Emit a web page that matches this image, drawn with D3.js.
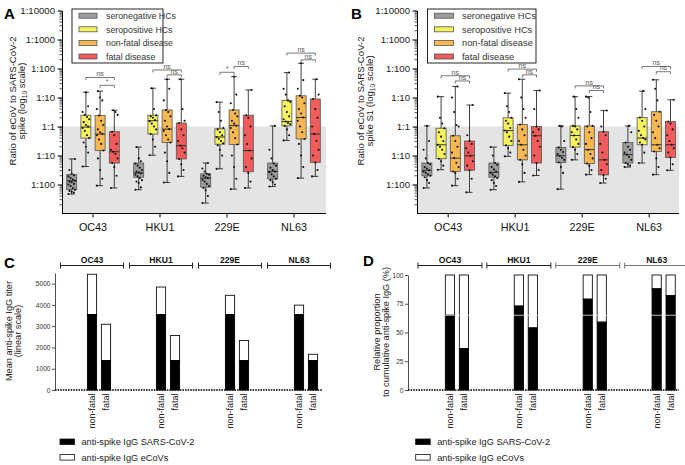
<!DOCTYPE html>
<html><head><meta charset="utf-8">
<script src="https://cdn.jsdelivr.net/npm/d3@7"></script>
<style>
body{margin:0;background:#fff;}
svg{font-family:"Liberation Sans",Arial,sans-serif;}
</style></head><body>
<svg id="c" width="685" height="465"></svg>
<script>
// ---------- shared categories ----------
const viruses = ["OC43","HKU1","229E","NL63"];
const cohorts = ["seronegative HCs","seropositive HCs","non-fatal disease","fatal disease"];
const cohortColors = ["#9c9c9c","#f5f25c","#f7b84f","#f15b5b"];
const logTickValues = [0.01,0.1,1,10,100,1000,10000];
const logTickLabels = ["1:100","1:10","1:1","1:10","1:100","1:1000","1:10000"];

// ---------- Panel A: box stats [min,q1,median,q3,max] in log10 units, per cohort ----------
const statsA_OC43 = [[-2.33,-2.18,-1.87,-1.66,-1.12],[-1.38,-0.40,-0.02,0.39,1.18],[-2.04,-0.83,-0.26,0.38,1.22],[-2.12,-1.26,-0.87,-0.18,0.56]];
const statsA_HKU1 = [[-2.18,-1.75,-1.60,-1.26,-0.71],[-0.99,-0.26,0.20,0.39,1.32],[-1.93,-0.55,-0.09,0.57,1.63],[-1.72,-1.12,-0.66,0.12,1.63]];
const statsA_229E = [[-2.64,-2.09,-1.78,-1.63,-1.26],[-1.46,-0.61,-0.36,-0.08,0.84],[-2.16,-0.62,0.03,0.57,1.72],[-2.12,-1.56,-0.83,0.39,1.26]];
const statsA_NL63 = [[-2.07,-1.81,-1.55,-1.26,0.02],[-0.48,0.02,0.17,0.90,1.86],[-1.78,-0.43,0.31,1.06,2.18],[-1.72,-1.24,-0.26,0.95,1.63]];
// individual points (log10 units)
const ptsA_OC43 = [
 [-2.33,-2.28,-2.25,-2.22,-2.18,-2.12,-2.05,-2.0,-1.98,-1.92,-1.9,-1.87,-1.83,-1.78,-1.72,-1.68,-1.62,-1.5,-1.12],
 [-1.38,-0.9,-0.7,-0.55,-0.4,-0.3,-0.15,-0.05,0.0,0.05,0.15,0.25,0.33,0.4,0.5,0.7,1.18],
 [-2.04,-1.8,-1.5,-1.1,-0.83,-0.6,-0.45,-0.3,-0.25,-0.2,-0.1,0.05,0.2,0.38,0.6,0.9,1.0,1.22],
 [-2.12,-1.7,-1.4,-1.26,-1.1,-0.95,-0.87,-0.8,-0.6,-0.3,-0.18,0.4,0.5,0.56]];
const ptsA_HKU1 = [
 [-2.18,-2.1,-1.95,-1.9,-1.85,-1.78,-1.72,-1.66,-1.62,-1.58,-1.55,-1.5,-1.42,-1.35,-1.28,-1.2,-1.1,-0.71],
 [-0.99,-0.7,-0.45,-0.26,-0.1,0.0,0.1,0.18,0.22,0.3,0.35,0.39,0.6,1.32],
 [-1.93,-1.6,-1.2,-0.9,-0.55,-0.45,-0.3,-0.15,-0.09,0.0,0.2,0.35,0.5,0.57,0.9,1.3,1.63],
 [-1.72,-1.5,-1.3,-1.12,-0.9,-0.75,-0.66,-0.5,-0.3,-0.1,0.12,0.2,0.6,1.63]];
const ptsA_229E = [
 [-2.64,-2.4,-2.2,-2.12,-2.05,-1.98,-1.9,-1.84,-1.78,-1.75,-1.7,-1.66,-1.63,-1.55,-1.45,-1.26],
 [-1.46,-1.0,-0.8,-0.65,-0.58,-0.5,-0.42,-0.36,-0.3,-0.2,-0.1,-0.05,0.2,0.5,0.84],
 [-2.16,-1.8,-1.4,-1.0,-0.62,-0.4,-0.2,-0.05,0.03,0.1,0.2,0.35,0.45,0.57,0.8,1.1,1.72],
 [-2.12,-1.9,-1.6,-1.4,-1.1,-0.83,-0.6,-0.3,0.0,0.3,0.39,1.26]];
const ptsA_NL63 = [
 [-2.07,-2.0,-1.92,-1.85,-1.8,-1.72,-1.65,-1.58,-1.55,-1.5,-1.42,-1.35,-1.28,-1.1,-0.8,0.02],
 [-0.48,-0.3,-0.1,0.02,0.08,0.12,0.17,0.25,0.35,0.5,0.7,0.85,0.9,1.1,1.3,1.86],
 [-1.78,-1.4,-1.0,-0.6,-0.43,-0.2,0.0,0.2,0.31,0.45,0.6,0.8,1.0,1.06,1.3,1.6,2.18],
 [-1.72,-1.5,-1.24,-1.0,-0.8,-0.5,-0.26,0.0,0.3,0.6,0.95,1.1,1.63]];
// significance brackets: [virus, fromCohort, toCohort, level (log10), label]
const bracketsA = [["OC43",1,3,1.69,"ns"],["OC43",2,3,1.42,"*"],["HKU1",1,3,1.95,"ns"],["HKU1",2,3,1.78,"ns"],
 ["229E",1,2,1.87,"*"],["229E",2,3,2.07,"ns"],["NL63",1,3,2.53,"ns"],["NL63",2,3,2.30,"ns"]];

// ---------- Panel B ----------
const statsB_OC43 = [[-2.12,-1.70,-1.51,-1.26,0.02],[-1.49,-1.11,-0.63,-0.06,1.03],[-2.04,-1.55,-1.09,-0.32,1.38],[-2.27,-1.51,-1.01,-0.50,0.74]];
const statsB_HKU1 = [[-2.18,-1.75,-1.58,-1.26,-0.71],[-1.03,-0.65,-0.14,0.30,1.15],[-1.91,-1.15,-0.63,0.07,1.63],[-1.69,-1.26,-0.32,0.0,1.24]];
const statsB_229E = [[-2.16,-1.24,-1.01,-0.72,0.02],[-1.15,-0.71,-0.31,0.02,1.03],[-1.66,-1.28,-0.80,0.02,1.03],[-1.95,-1.67,-1.15,-0.18,0.55]];
const statsB_NL63 = [[-1.40,-1.26,-0.97,-0.55,0.02],[-1.26,-0.63,-0.40,0.31,1.22],[-1.66,-0.86,-0.63,0.51,1.61],[-1.51,-1.07,-0.63,0.17,0.92]];
const ptsB_OC43 = [
 [-2.12,-1.95,-1.85,-1.75,-1.7,-1.65,-1.6,-1.55,-1.51,-1.45,-1.4,-1.3,-1.26,-1.1,-0.8,-0.5,0.02],
 [-1.49,-1.35,-1.2,-1.11,-0.95,-0.8,-0.7,-0.63,-0.5,-0.35,-0.2,-0.06,0.1,0.3,1.03],
 [-2.04,-1.8,-1.6,-1.55,-1.4,-1.25,-1.09,-0.9,-0.7,-0.5,-0.32,0.0,0.05,0.5,1.0,1.38],
 [-2.27,-1.8,-1.51,-1.35,-1.2,-1.01,-0.9,-0.75,-0.6,-0.5,-0.3,0.74]];
const ptsB_HKU1 = [
 [-2.18,-2.05,-1.95,-1.85,-1.78,-1.72,-1.66,-1.6,-1.55,-1.48,-1.4,-1.32,-1.26,-1.0,-0.71],
 [-1.03,-0.9,-0.75,-0.65,-0.5,-0.35,-0.2,-0.14,-0.05,0.1,0.2,0.3,0.5,0.7,1.15],
 [-1.91,-1.6,-1.3,-1.15,-1.0,-0.8,-0.63,-0.5,-0.3,-0.1,0.07,0.3,0.6,1.0,1.63],
 [-1.69,-1.5,-1.26,-1.0,-0.7,-0.5,-0.32,-0.2,-0.1,0.0,0.6,1.24]];
const ptsB_229E = [
 [-2.16,-1.6,-1.4,-1.24,-1.15,-1.08,-1.01,-0.95,-0.88,-0.8,-0.72,-0.5,0.0,0.02],
 [-1.15,-0.95,-0.8,-0.71,-0.6,-0.45,-0.31,-0.2,-0.1,0.0,0.02,0.3,0.6,1.03],
 [-1.66,-1.5,-1.35,-1.28,-1.1,-0.95,-0.8,-0.6,-0.4,-0.2,0.0,0.02,0.5,1.0,1.03],
 [-1.95,-1.8,-1.67,-1.5,-1.3,-1.15,-0.9,-0.6,-0.3,-0.18,0.0,0.55]];
const ptsB_NL63 = [
 [-1.40,-1.35,-1.3,-1.26,-1.15,-1.05,-0.97,-0.9,-0.8,-0.7,-0.55,-0.2,0.02],
 [-1.26,-0.9,-0.63,-0.55,-0.45,-0.4,-0.3,-0.15,0.0,0.2,0.31,0.6,1.22],
 [-1.66,-1.4,-1.1,-0.86,-0.75,-0.63,-0.4,-0.2,0.0,0.2,0.4,0.51,0.9,1.3,1.61],
 [-1.51,-1.3,-1.07,-0.9,-0.75,-0.63,-0.5,-0.3,-0.1,0.1,0.17,0.92]];
const bracketsB = [["OC43",1,3,1.75,"ns"],["OC43",2,3,1.57,"ns"],["HKU1",1,3,1.98,"ns"],["HKU1",2,3,1.78,"ns"],
 ["229E",1,3,1.40,"ns"],["229E",2,3,1.24,"ns"],["NL63",1,3,2.07,"ns"],["NL63",2,3,1.89,"ns"]];

// ---------- Panels C & D ----------
const outcomes = ["non-fatal","fatal"];
const stackSeries = ["anti-spike IgG SARS-CoV-2","anti-spike IgG eCoVs"];
const titerSarsNonFatal = [3550,3550,3550,3550];
const titerSarsFatal    = [1380,1380,1380,1380];
const titerEcovNonFatal = [1890,1290,900,440];
const titerEcovFatal    = [1710,1180,950,300];
const titerTicks = [0,1000,2000,3000,4000,5000];
const pctSarsNonFatal = [65,73,79,88];
const pctSarsFatal    = [36,54,59,82];
const pctTicks = [0,25,50,75,100];

const FONT = "Liberation Sans, Arial, sans-serif";
const svg = d3.select("#c");

function panelLetter(t,x,y){
  svg.append("text").attr("x",x).attr("y",y).attr("font-size",15).attr("font-weight","bold").attr("fill","#000").text(t);
}
function rotLabel(lines,xs,cy,size){
  lines.forEach((l,i)=>{
    const t = svg.append("text").attr("transform",`translate(${xs[i]},${cy}) rotate(-90)`)
      .attr("text-anchor","middle").attr("font-size",size).attr("fill","#222");
    l.forEach(seg=>{
      const ts = t.append("tspan").text(seg[0]);
      if(seg[1]) ts.attr("font-size",size*0.7).attr("dy",2);
      else if(seg[2]) ts.attr("dy",-2);
    });
  });
}

function logPanel(cfg){
  const g = svg.append("g");
  const y = d3.scaleLog().domain([1e-3,1e4]).range([213.5,10.5]);
  const x = d3.scaleBand().domain(viruses).range(cfg.band);
  const sub = d3.scalePoint().domain(d3.range(4)).range([-21.3,21.3]);
  const cx = (v,c)=> x(v)+x.bandwidth()/2 + sub(c);
  g.append("rect").attr("x",cfg.axisX).attr("y",y(1)).attr("width",cfg.xEnd-cfg.axisX)
    .attr("height",y(1e-3)-y(1)).attr("fill","#e4e4e4");
  // y axis
  const ax = g.append("g").attr("transform",`translate(${cfg.axisX},0)`)
    .call(d3.axisLeft(y).tickValues(logTickValues).tickFormat((d,i)=>logTickLabels[i]).tickSize(4.5).tickSizeOuter(0));
  ax.attr("font-family",FONT);
  ax.selectAll("text").attr("font-size",9.6).attr("fill","#222").attr("x",-7);
  const minor=[]; for(let e=-3;e<4;e++) for(let k=2;k<10;k++) minor.push(k*Math.pow(10,e));
  ax.selectAll("line.minor").data(minor).join("line").attr("class","minor")
    .attr("x1",-2.5).attr("x2",0).attr("y1",d=>y(d)).attr("y2",d=>y(d)).attr("stroke","#000").attr("stroke-width",0.7);
  // x axis
  g.append("line").attr("x1",cfg.axisX).attr("x2",cfg.xEnd).attr("y1",213.5).attr("y2",213.5).attr("stroke","#000");
  viruses.forEach(v=>{
    const c = x(v)+x.bandwidth()/2;
    g.append("line").attr("x1",c).attr("x2",c).attr("y1",213.5).attr("y2",217.5).attr("stroke","#000");
    g.append("text").attr("x",c).attr("y",231).attr("text-anchor","middle").attr("font-size",10.8).attr("fill","#111").text(v);
  });
  // boxes
  viruses.forEach((v,vi)=>{
    cohorts.forEach((co,ci)=>{
      const s = cfg.stats[vi][ci], xc = cx(v,ci), Y = d=>y(Math.pow(10,d));
      g.append("line").attr("x1",xc).attr("x2",xc).attr("y1",Y(s[0])).attr("y2",Y(s[4])).attr("stroke","#111").attr("stroke-width",0.8);
      [s[0],s[4]].forEach(d=>g.append("line").attr("x1",xc-3).attr("x2",xc+3).attr("y1",Y(d)).attr("y2",Y(d)).attr("stroke","#111").attr("stroke-width",0.8));
      g.append("rect").attr("x",xc-5).attr("width",10).attr("y",Y(s[3])).attr("height",Y(s[1])-Y(s[3]))
        .attr("fill",cohortColors[ci]).attr("stroke","#555").attr("stroke-width",0.8);
      g.append("line").attr("x1",xc-5).attr("x2",xc+5).attr("y1",Y(s[2])).attr("y2",Y(s[2])).attr("stroke","#222").attr("stroke-width",0.9);
      g.selectAll(null).data(cfg.points[vi][ci]).join("circle")
        .attr("cx",(d,i)=>xc+(((i*5)%7)-3)*1.1).attr("cy",d=>Y(d)).attr("r",1.05).attr("fill","#111");
    });
  });
  // brackets
  cfg.brackets.forEach(b=>{
    const x1 = cx(b[0],b[1]), x2 = cx(b[0],b[2]), yy = y(Math.pow(10,b[3]));
    g.append("path").attr("d",`M${x1},${yy+2.5}V${yy}H${x2}V${yy+2.5}`).attr("fill","none").attr("stroke","#555").attr("stroke-width",0.8);
    g.append("text").attr("x",(x1+x2)/2).attr("y",yy-1.2).attr("text-anchor","middle").attr("font-size",7).attr("fill","#555").text(b[4]);
  });
  // legend
  const lg = g.append("g").attr("transform",`translate(${cfg.legendX},9)`);
  lg.append("rect").attr("width",cfg.legendW).attr("height",54).attr("fill","#fff").attr("stroke","#111").attr("stroke-width",0.9);
  cohorts.forEach((co,i)=>{
    const yy = 6.7 + i*13.6;
    lg.append("rect").attr("x",7).attr("y",yy-2.5).attr("width",cfg.swW).attr("height",5).attr("fill",cohortColors[i]).attr("stroke","#555").attr("stroke-width",0.8);
    lg.append("text").attr("x",cfg.textX).attr("y",yy+3.2).attr("font-size",cfg.legFont).attr("fill","#333").text(co);
  });
}

panelLetter("A",4,19); panelLetter("B",351,19);
rotLabel([[["Ratio of eCoV to SARS-CoV-2"]],[["spike (log"],["10",true],[" scale)",false,true]]],[15.5,25],101,9.6);
rotLabel([[["Ratio of eCoV to SARS-CoV-2"]],[["spike S1 (log"],["10",true],[" scale)",false,true]]],[363.5,373],101,9.6);

logPanel({axisX:62,xEnd:326,band:[59.5,327.5],legendX:72,legendW:91,swW:18,textX:34,legFont:8.8,
  stats:[statsA_OC43,statsA_HKU1,statsA_229E,statsA_NL63],
  points:[ptsA_OC43,ptsA_HKU1,ptsA_229E,ptsA_NL63],brackets:bracketsA});
logPanel({axisX:417,xEnd:679,band:[414.7,682.7],legendX:427.5,legendW:108.5,swW:19,textX:34.5,legFont:9.3,
  stats:[statsB_OC43,statsB_HKU1,statsB_229E,statsB_NL63],
  points:[ptsB_OC43,ptsB_HKU1,ptsB_229E,ptsB_NL63],brackets:bracketsB});

function barPanel(cfg){
  const g = svg.append("g");
  const y = d3.scaleLinear().domain(cfg.domain).range([390,cfg.top]);
  const x = d3.scaleBand().domain(viruses).range(cfg.band);
  const off = d3.scalePoint().domain(outcomes).range([0,14]);
  const ax = g.append("g").attr("transform",`translate(${cfg.axisX},0)`)
    .call(d3.axisLeft(y).tickValues(cfg.ticks).tickFormat(d3.format("d")).tickSize(3).tickSizeOuter(0));
  ax.attr("font-family",FONT);
  ax.selectAll("text").attr("font-size",6.6).attr("fill","#333").attr("x",-4.5);
  ax.select(".domain").attr("stroke","#222").attr("stroke-width",0.8);
  ax.selectAll(".tick line").attr("stroke","#222").attr("stroke-width",0.8);
  viruses.forEach((v,vi)=>{
    const c = x(v)+x.bandwidth()/2;
    // header bracket
    g.append("path").attr("d",`M${c-cfg.half},262.5V268.5M${c-cfg.half},265.5H${c+cfg.half}M${c+cfg.half},262.5V268.5`)
      .attr("stroke",cfg.hdrColor(vi)).attr("stroke-width",1).attr("fill","none");
    g.append("text").attr("x",c).attr("y",262.5).attr("text-anchor","middle").attr("font-size",8.6).attr("font-weight","bold").attr("fill","#111").text(v);
    outcomes.forEach((o,oi)=>{
      const xc = c + off(o);
      const lo = oi===0 ? cfg.sarsNF[vi] : cfg.sarsF[vi];
      const hi = cfg.total(vi,oi);
      g.append("rect").attr("x",xc-4.6).attr("width",9.2).attr("y",y(hi)).attr("height",y(lo)-y(hi))
        .attr("fill","#fff").attr("stroke","#111").attr("stroke-width",0.9);
      g.append("rect").attr("x",xc-4.6).attr("width",9.2).attr("y",y(lo)).attr("height",y(0)-y(lo))
        .attr("fill","#000").attr("stroke","#000").attr("stroke-width",0.9);
      g.append("text").attr("transform",`translate(${xc+3.2},393.5) rotate(-90)`).attr("text-anchor","end")
        .attr("font-size",9).attr("fill","#222").text(o);
    });
  });
  if(cfg.whiteLine!=null){
    g.append("line").attr("x1",cfg.axisX+30).attr("x2",cfg.baseEnd).attr("y1",y(cfg.whiteLine)).attr("y2",y(cfg.whiteLine))
      .attr("stroke","#fff").attr("stroke-width",0.9).attr("opacity",0.8);
  }
  g.append("line").attr("x1",cfg.axisX).attr("x2",cfg.baseEnd).attr("y1",390).attr("y2",390)
    .attr("stroke","#000").attr("stroke-width",1.6).attr("stroke-dasharray","1.6,1");
  // legend
  stackSeries.forEach((s,i)=>{
    const yy = i===0 ? 442 : 457.5;
    g.append("rect").attr("x",cfg.legX).attr("y",yy-3).attr("width",14.5).attr("height",5.6)
      .attr("fill",i===0?"#000":"#fff").attr("stroke","#111").attr("stroke-width",0.8);
    g.append("text").attr("x",cfg.legX+21.5).attr("y",yy+3.2).attr("font-size",9.2).attr("fill","#222").text(s);
  });
}

panelLetter("C",4,268); panelLetter("D",363,266);
rotLabel([[["Mean anti-spike IgG titer"]],[["(linear scale)"]]],[12,20.5],331,9.2);
rotLabel([[["Relative proportion"]],[["to cumulative  anti-spike IgG (%)"]]],[380,388.5],332,9.2);

barPanel({domain:[0,5500],top:273,ticks:titerTicks,axisX:55,baseEnd:322,band:[57.5,333.5],half:31.5,legX:60,
  sarsNF:titerSarsNonFatal,sarsF:titerSarsFatal,
  total:(vi,oi)=> oi===0 ? titerSarsNonFatal[vi]+titerEcovNonFatal[vi] : titerSarsFatal[vi]+titerEcovFatal[vi],
  hdrColor:()=>"#222"});
barPanel({domain:[0,100],top:275,ticks:pctTicks,axisX:408,baseEnd:679,band:[415.5,691.1],half:32,legX:415.7,
  sarsNF:pctSarsNonFatal,sarsF:pctSarsFatal,total:()=>100,whiteLine:65,
  hdrColor:(vi)=> vi>=2 ? "#777" : "#222"});
</script>
</body></html>
